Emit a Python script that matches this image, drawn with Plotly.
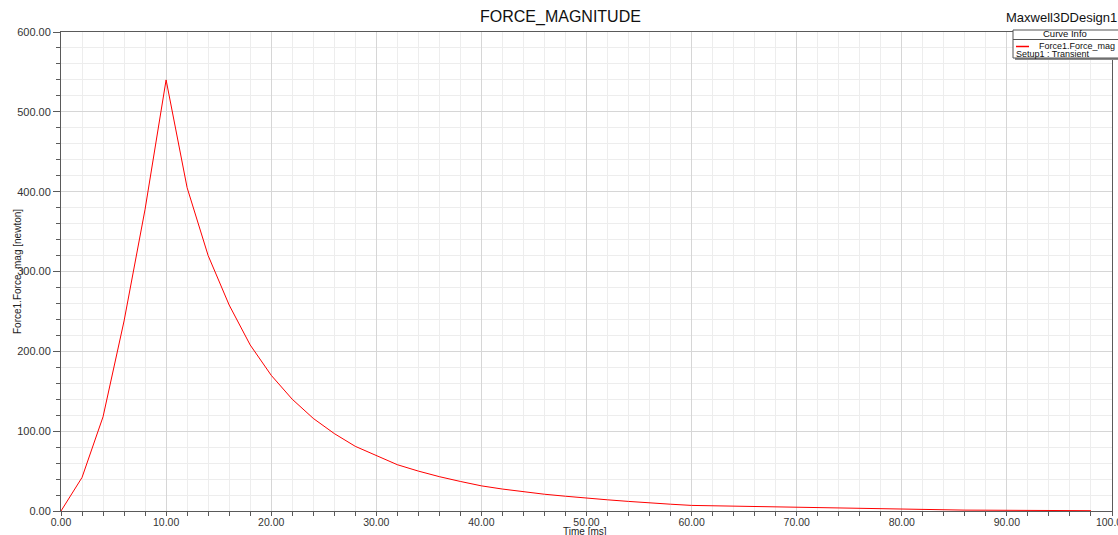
import plotly.graph_objects as go

# Transient force magnitude on Force1, sampled every 2 ms
time_ms = [0, 2, 4, 6, 8, 10, 12, 14, 16, 18, 20, 22, 24, 26, 28, 30, 32, 34, 36, 38,
           40, 42, 44, 46, 48, 50, 52, 54, 56, 58, 60, 62, 64, 66, 68, 70, 72, 74, 76, 78,
           80, 82, 84, 86, 88, 90, 92, 94, 96, 98]
force_n = [0, 42, 118, 238, 378, 540, 405, 320, 258, 208, 170, 140, 116, 97, 81, 69, 58, 50, 43, 37,
           31.5, 27.5, 24, 21, 18.5, 16, 14, 12, 10, 8.5, 7, 6.5, 6, 5.5, 4.8, 4.2, 3.7, 3.2, 2.7, 2.2,
           1.8, 1.5, 1.3, 1.1, 1.0, 0.8, 0.7, 0.6, 0.5, 0.4]

W, H = 1118, 535
ML, MR, MT, MB = 61, 6, 32, 24
PW, PH = W - ML - MR, H - MT - MB
FONT = "Liberation Sans, Arial, sans-serif"


def px(x):
    return (x - ML) / PW


def py(y):
    return (H - MB - y) / PH


fig = go.Figure()
fig.add_trace(go.Scatter(
    x=time_ms, y=force_n, mode="lines",
    line=dict(color="#ff0000", width=1),
    showlegend=False, hoverinfo="x+y",
))

axis_common = dict(
    showline=True, linecolor="#5a5a5a", linewidth=1, mirror=True,
    ticks="outside", tickcolor="#5a5a5a", tickwidth=1,
    showgrid=True, gridcolor="#d6d6d6", gridwidth=1,
    zeroline=False, automargin=False, tickformat=".2f",
)

fig.update_xaxes(
    range=[0, 100], dtick=10, tick0=0, ticklen=4,
    ticklabelstandoff=-3, ticklabeloverflow="allow",
    tickfont=dict(family=FONT, size=10.5, color="#333333"),
    minor=dict(dtick=2, ticks="outside", ticklen=4, tickcolor="#5a5a5a",
               showgrid=True, gridcolor="#ededed"),
    **axis_common,
)
fig.update_yaxes(
    range=[0, 600], dtick=100, tick0=0, ticklen=7,
    tickfont=dict(family=FONT, size=11, color="#333333"),
    minor=dict(dtick=20, ticks="outside", ticklen=4, tickcolor="#5a5a5a",
               showgrid=True, gridcolor="#ededed"),
    **axis_common,
)

annotations = [
    dict(text="FORCE_MAGNITUDE", x=px(560), y=py(17), font=dict(size=16, color="#111111")),
    dict(text="Maxwell3DDesign1", x=px(1061), y=py(17), font=dict(size=13, color="#111111")),
    dict(text="Time [ms]", x=px(585), y=py(531), font=dict(size=10, color="#222222")),
    dict(text="Force1.Force_mag [newton]", x=px(17), y=py(272), textangle=-90,
         font=dict(size=10, color="#222222")),
    dict(text="Curve Info", x=px(1065), y=py(34), font=dict(size=9.5, color="#111111")),
    dict(text="Force1.Force_mag", x=px(1037), y=py(46), xanchor="left",
         font=dict(size=9, color="#111111")),
    dict(text="Setup1 : Transient", x=px(1014), y=py(54.5), xanchor="left",
         font=dict(size=9, color="#111111")),
]
for a in annotations:
    a.setdefault("xanchor", "center")
    a.update(xref="paper", yref="paper", yanchor="middle", showarrow=False)
    a["font"]["family"] = FONT

shapes = [
    # legend box shadow
    dict(type="rect", x0=px(1015), x1=px(1125), y0=py(60), y1=py(32),
         fillcolor="#8a8a8a", line=dict(width=0)),
    # legend box
    dict(type="rect", x0=px(1013), x1=px(1125), y0=py(58), y1=py(30),
         fillcolor="white", line=dict(color="#555555", width=1)),
    # header separator
    dict(type="line", x0=px(1013), x1=px(1125), y0=py(39.5), y1=py(39.5),
         line=dict(color="#555555", width=1)),
    # line sample for the curve
    dict(type="line", x0=px(1016), x1=px(1029), y0=py(46.5), y1=py(46.5),
         line=dict(color="#ff0000", width=1.5)),
]
for s in shapes:
    s.update(xref="paper", yref="paper", layer="above")

fig.update_layout(
    template="none",
    width=W, height=H,
    margin=dict(l=ML, r=MR, t=MT, b=MB, pad=0),
    paper_bgcolor="white", plot_bgcolor="white",
    font=dict(family=FONT),
    annotations=annotations,
    shapes=shapes,
    showlegend=False,
)

fig.write_html("out.html")
